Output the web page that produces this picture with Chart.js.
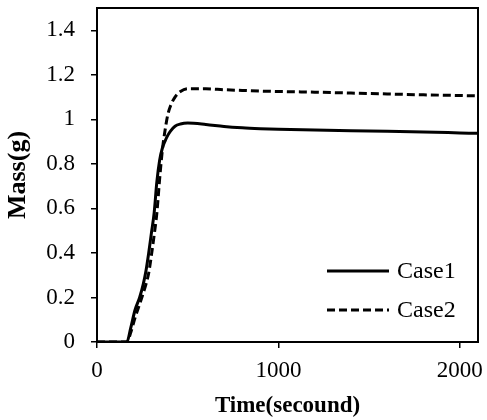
<!DOCTYPE html>
<html>
<head>
<meta charset="utf-8">
<script src="https://cdn.jsdelivr.net/npm/chart.js@4/dist/chart.umd.min.js"></script>
<style>
  html, body { margin: 0; padding: 0; background: #fff; }
  #wrap { width: 487px; height: 420px; position: relative; }
</style>
</head>
<body>
<div id="wrap"><canvas id="c"></canvas></div>
<script>
"use strict";

// ── Data
const timeSec   = [0, 100, 165, 185, 210, 235, 255, 270, 285, 300, 315, 330, 345, 360, 375, 390, 405, 430, 460, 500, 600, 700, 800, 900, 1000, 1200, 1400, 1600, 1800, 2000, 2100];
const case1Mass = [0, 0, 0, 0.06, 0.145, 0.2, 0.26, 0.32, 0.4, 0.49, 0.58, 0.72, 0.815, 0.87, 0.902, 0.928, 0.947, 0.969, 0.979, 0.983, 0.977, 0.968, 0.962, 0.958, 0.955, 0.952, 0.949, 0.946, 0.943, 0.939, 0.937];
const case2Mass = [0, 0, 0, 0.04, 0.11, 0.17, 0.22, 0.26, 0.31, 0.39, 0.48, 0.58, 0.73, 0.86, 0.95, 1.02, 1.06, 1.1, 1.125, 1.137, 1.137, 1.133, 1.13, 1.127, 1.125, 1.122, 1.118, 1.114, 1.11, 1.107, 1.105];
const xTicks    = [0, 1000, 2000];
const yTicks    = [0, 0.2, 0.4, 0.6, 0.8, 1, 1.2, 1.4];
const labels    = ["Case1", "Case2"];

const SERIF = "'Liberation Serif', 'Times New Roman', serif";
const pts = arr => timeSec.map((t, i) => ({ x: t, y: arr[i] }));

// ── Frame box + in-plot legend
const framePlugin = {
  id: "frame",
  afterDatasetsDraw(chart) {
    const { ctx, chartArea: a } = chart;
    ctx.save();
    ctx.strokeStyle = "#000";
    ctx.lineWidth = 2;
    ctx.strokeRect(a.left, a.top, a.right - a.left, a.bottom - a.top);

    // legend, lower right
    const x0 = 327, x1 = 389, rows = [271, 310];
    ctx.font = "24px " + SERIF;
    ctx.textBaseline = "middle";
    ctx.fillStyle = "#000";
    chart.data.datasets.forEach((ds, i) => {
      ctx.lineWidth = 3;
      ctx.setLineDash(ds.borderDash || []);
      ctx.beginPath();
      ctx.moveTo(x0, rows[i]); ctx.lineTo(x1, rows[i]);
      ctx.stroke();
      ctx.setLineDash([]);
      ctx.fillText(ds.label, x1 + 8, rows[i] + 1);
    });
    ctx.restore();
  }
};

const tickFont = { family: SERIF, size: 23 };

new Chart(document.getElementById("c"), {
  type: "line",
  data: { datasets: [
    { label: labels[0], data: pts(case1Mass), borderColor: "#000", borderWidth: 3, pointRadius: 0, cubicInterpolationMode: "monotone", fill: false },
    { label: labels[1], data: pts(case2Mass), borderColor: "#000", borderWidth: 3, pointRadius: 0, cubicInterpolationMode: "monotone", fill: false, borderDash: [8, 4] },
  ]},
  options: {
    responsive: true, maintainAspectRatio: false, animation: false,
    layout: { padding: { top: 8, right: 9, left: 0, bottom: 0 } },
    plugins: { legend: { display: false }, tooltip: { enabled: false } },
    scales: {
      x: {
        type: "linear", min: 0, max: 2100,
        afterBuildTicks: s => { s.ticks = xTicks.map(v => ({ value: v })); },
        afterFit: s => { s.height = 78; s.paddingLeft = 0; s.paddingRight = 0; },
        grid: { display: true, drawOnChartArea: false, drawTicks: true, tickLength: 6, color: "#000", lineWidth: 1.5 },
        border: { display: true, color: "#000", width: 2 },
        ticks: { color: "#000", font: tickFont, padding: 9, maxRotation: 0, callback: v => String(v) },
        title: { display: true, text: "Time(secound)", color: "#000", font: { family: SERIF, size: 23, weight: "bold" }, padding: { top: 0, bottom: 0 } },
      },
      y: {
        min: 0, max: 1.5,
        afterBuildTicks: s => { s.ticks = yTicks.map(v => ({ value: v })); },
        afterFit: s => { s.width = 97; s.paddingTop = 0; s.paddingBottom = 0; },
        grid: { display: true, drawOnChartArea: false, drawTicks: true, tickLength: 6, color: "#000", lineWidth: 1.5 },
        border: { display: true, color: "#000", width: 2 },
        ticks: { color: "#000", font: tickFont, padding: 16, callback: v => String(v) },
        title: { display: true, text: "Mass(g)", color: "#000", font: { family: SERIF, size: 26, weight: "bold" }, padding: { top: 3, bottom: 4 } },
      },
    },
  },
  plugins: [framePlugin],
});
</script>
</body>
</html>
